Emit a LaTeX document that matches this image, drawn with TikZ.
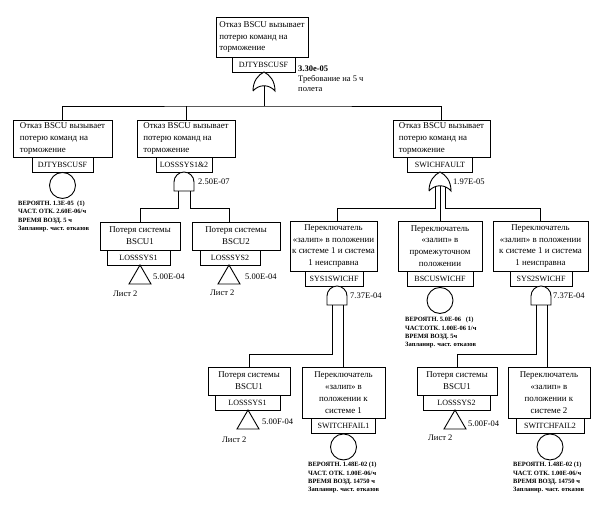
\documentclass[tikz,border=0pt]{standalone}
\usepackage{fontspec}
\setmainfont{Liberation Serif}
\begin{document}
\begin{tikzpicture}[x=1pt,y=-1pt,
  ln/.style={line width=0.9pt},
  evbox/.style={draw, line width=0.9pt, rectangle, inner xsep=2pt, inner ysep=2pt, font=\fontsize{8.9}{11.8}\selectfont},
  lbl/.style={draw, line width=0.9pt, rectangle, inner sep=1pt, minimum height=15pt, anchor=north, font=\fontsize{8}{9}\selectfont},
  basic/.style={draw, line width=0.9pt, circle, minimum size=26pt, inner sep=0pt, anchor=north},
  info/.style={anchor=north west, inner sep=0pt, align=left, font=\fontsize{6.5}{8.4}\selectfont\bfseries},
  val/.style={anchor=west, inner sep=0pt, font=\fontsize{8.5}{10}\selectfont},
  orgate/.pic={\draw[ln,fill=white] (-11,19) .. controls (-11,9) and (-6,3) .. (0,0) .. controls (6,3) and (11,9) .. (11,19) .. controls (5,12) and (-5,12) .. (-11,19);},
  andgate/.pic={\draw[ln,fill=white] (-10,19) -- (-10,10) .. controls (-10,4.5) and (-5.5,0) .. (0,0) .. controls (5.5,0) and (10,4.5) .. (10,10) -- (10,19) -- cycle;},
  transfer/.pic={\draw[ln] (0,0) -- (11,19) -- (-11,19) -- cycle;}
]
\useasboundingbox (0,0) rectangle (605,528);
\fill[white] (0,0) rectangle (605,528);

% ---------- top event ----------
\node[evbox, minimum width=92pt, minimum height=40pt, align=left] (top) at (262,37) {Отказ BSCU вызывает\\потерю команд на\\торможение};
\node[lbl, minimum width=63pt] (topL) at (263.5,57) {DJTYBSCUSF};
\coordinate (g0) at (264,72);
\pic at (g0) {orgate};
\coordinate (g0in) at (264,85.5);
\coordinate (bus0) at (264,106);
\node[val, font=\fontsize{8.5}{10}\selectfont\bfseries] (topv) at (298,69) {3.30e-05};
\node[val, anchor=north west, align=left] (topn) at (298,75) {Требование на 5 ч\\полета};

% ---------- level 2 ----------
\node[evbox, minimum width=99pt, minimum height=37pt, align=left] (L2a) at (62.5,138.5) {Отказ BSCU вызывает\\потерю команд на\\торможение};
\node[lbl, minimum width=61pt] (L2aL) at (62.5,157) {DJTYBSCUSF};
\node[basic] (L2aC) at (62.5,172) {};
\node[info] (L2aI) at (18,200.5) {ВЕРОЯТН. 1.3E-05\ \ (1)\\ЧАСТ. ОТК. 2.60E-06/ч\\ВРЕМЯ ВОЗД. 5 ч\\Запланир. част. отказов};

\node[evbox, minimum width=98pt, minimum height=37pt, align=left] (L2b) at (186,138.5) {Отказ BSCU вызывает\\потерю команд на\\торможение};
\node[lbl, minimum width=56pt] (L2bL) at (184,157) {LOSSSYS1\&2};
\coordinate (gA) at (184,172);
\pic at (gA) {andgate};
\coordinate (gAin1) at (178,191);
\coordinate (gAin2) at (190,191);
\node[val] (gAv) at (198,182) {2.50E-07};

\node[evbox, minimum width=97pt, minimum height=37pt, align=left] (L2c) at (441.5,138.5) {Отказ BSCU вызывает\\потерю команд на\\торможение};
\node[lbl, minimum width=65pt] (L2cL) at (440,157) {SWICHFAULT};
\coordinate (gB) at (440,172);
\pic at (gB) {orgate};
\coordinate (gBin1) at (435,187);
\coordinate (gBin2) at (440,186);
\coordinate (gBin3) at (445,187);
\node[val] (gBv) at (453,182) {1.97E-05};
\coordinate (busB) at (0,208);

% ---------- level 3 ----------
\node[evbox, minimum width=80pt, minimum height=28pt, align=center] (L3a) at (140,236) {Потеря системы\\BSCU1};
\node[lbl, minimum width=63pt] (L3aL) at (138.5,250) {LOSSSYS1};
\coordinate (t3a) at (140,265);
\pic at (t3a) {transfer};
\node[val] (t3av) at (153,277) {5.00E-04};
\node[val] (t3as) at (113,294) {Лист 2};

\node[evbox, minimum width=88pt, minimum height=28pt, align=center] (L3b) at (236,236) {Потеря системы\\BSCU2};
\node[lbl, minimum width=60pt] (L3bL) at (230,250) {LOSSSYS2};
\coordinate (t3b) at (229,265);
\pic at (t3b) {transfer};
\node[val] (t3bv) at (245,277) {5.00E-04};
\node[val] (t3bs) at (210,293) {Лист 2};

\node[evbox, minimum width=87pt, minimum height=50pt, align=center] (L3c) at (333.5,246) {Переключатель\\«залип» в положении\\к системе 1 и система\\1 неисправна};
\node[lbl, minimum width=58pt] (L3cL) at (334,271) {SYS1SWICHF};
\coordinate (gC) at (337,286);
\pic at (gC) {andgate};
\coordinate (gCin1) at (332,305);
\coordinate (gCin2) at (343,305);
\node[val] (gCv) at (350,296) {7.37E-04};

\node[evbox, minimum width=84pt, minimum height=50pt, align=center] (L3d) at (440,246) {Переключатель\\«залип» в\\промежуточном\\положении};
\node[lbl, minimum width=66pt] (L3dL) at (440,271) {BSCUSWICHF};
\node[basic] (L3dC) at (440,287) {};
\node[info] (L3dI) at (405,317) {ВЕРОЯТН. 5.0E-06\ \ \ (1)\\ЧАСТ.ОТК. 1.00E-06 1/ч\\ВРЕМЯ ВОЗД. 5ч\\Запланир. част. отказов};

\node[evbox, minimum width=95pt, minimum height=50pt, align=center] (L3e) at (540.5,246) {Переключатель\\«залип» в положении\\к системе 1 и система\\1 неисправна};
\node[lbl, minimum width=62pt] (L3eL) at (541,271) {SYS2SWICHF};
\coordinate (gD) at (541,286);
\pic at (gD) {andgate};
\coordinate (gDin1) at (536,305);
\coordinate (gDin2) at (547,305);
\node[val] (gDv) at (553,296) {7.37E-04};
\coordinate (busC) at (0,354);

% ---------- level 4 ----------
\node[evbox, minimum width=82pt, minimum height=28pt, align=center] (L4a) at (249,381) {Потеря системы\\BSCU1};
\node[lbl, minimum width=65pt] (L4aL) at (247.5,395) {LOSSSYS1};
\coordinate (t4a) at (248,410);
\pic at (t4a) {transfer};
\node[val] (t4av) at (262,422) {5.00F-04};
\node[val] (t4as) at (222,440) {Лист 2};

\node[evbox, minimum width=83pt, minimum height=51pt, align=center] (L4b) at (343.5,392.5) {Переключатель\\«залип» в\\положении к\\системе 1};
\node[lbl, minimum width=64pt] (L4bL) at (343.5,418) {SWITCHFAIL1};
\node[basic] (L4bC) at (343.5,433.5) {};
\node[info] (L4bI) at (308,462) {ВЕРОЯТН. 1.48E-02 (1)\\ЧАСТ. ОТК. 1.00E-06/ч\\ВРЕМЯ ВОЗД. 14750 ч\\Запланир. част. отказов};

\node[evbox, minimum width=80pt, minimum height=28pt, align=center] (L4c) at (457,381) {Потеря системы\\BSCU1};
\node[lbl, minimum width=67pt] (L4cL) at (456.5,395) {LOSSSYS2};
\coordinate (t4c) at (455,410);
\pic at (t4c) {transfer};
\node[val] (t4cv) at (468,424) {5.00F-04};
\node[val] (t4cs) at (428,438) {Лист 2};

\node[evbox, minimum width=82pt, minimum height=51pt, align=center] (L4d) at (549,392.5) {Переключатель\\«залип» в\\положении к\\системе 2};
\node[lbl, minimum width=68pt] (L4dL) at (550,418) {SWITCHFAIL2};
\node[basic] (L4dC) at (550,433.5) {};
\node[info] (L4dI) at (513,462) {ВЕРОЯТН. 1.48E-02 (1)\\ЧАСТ. ОТК. 1.00E-06/ч\\ВРЕМЯ ВОЗД. 14750 ч\\Запланир. част. отказов};

% ---------- connectors ----------
\draw[ln] (g0in) -- (bus0);
\draw[ln] (L2a.north) |- (bus0) -| (L2c.north);
\draw[ln] (L2b.north) -- (L2b.north |- bus0);
\draw[ln] (gAin1) -- (gAin1 |- busB) -| (L3a.north);
\draw[ln] (gAin2) -- (gAin2 |- busB) -| (t3b |- L3b.north);
\draw[ln] (gBin1) -- (gBin1 |- busB) -| ([xshift=4pt]L3c.north);
\draw[ln] (gBin2) -- (L3d.north);
\draw[ln] (gBin3) -- (gBin3 |- busB) -| (L3e.north);
\draw[ln] (gCin1) -- (gCin1 |- busC) -| (L4a.north);
\draw[ln] (gCin2) -- (gCin2 |- L4b.north);
\draw[ln] (gDin1) -- (gDin1 |- busC) -| (L4c.north);
\draw[ln] (gDin2) -- (gDin2 |- L4d.north);
\end{tikzpicture}
\end{document}
